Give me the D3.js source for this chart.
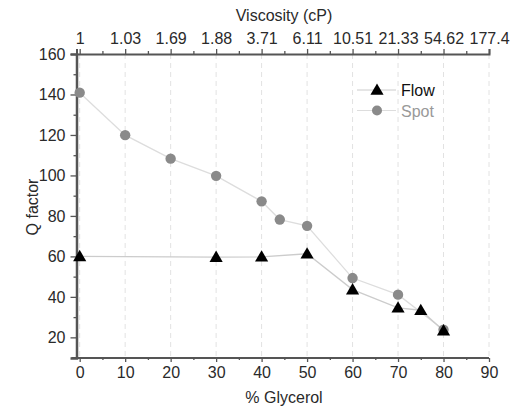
<!DOCTYPE html>
<html><head><meta charset="utf-8">
<script src="https://cdn.jsdelivr.net/npm/d3@7"></script>
<style>body{margin:0;background:#fff}svg{display:block}text{font-family:"Liberation Sans",Arial,sans-serif}</style>
</head><body><svg id="c" width="510" height="410"></svg>
<script>
const xTicks = [0,10,20,30,40,50,60,70,80,90];
const viscosityLabels = ["1","1.03","1.69","1.88","3.71","6.11","10.51","21.33","54.62","177.4"];
const yTicks = [20,40,60,80,100,120,140,160];
const yMinor = [10,30,50,70,90,110,130,150];
const flowX = [0,30,40,50,60,70,75,80];
const flowY = [60,59.6,59.8,61.3,43.6,34.6,33.4,23.3];
const spotX = [0,10,20,30,40,44,50,60,70,80];
const spotY = [140.9,119.9,108.3,99.8,87.2,78.2,75.1,49.3,41.1,23.8];

const svg = d3.select("#c");
const L=76.5, R=490, T=54, B=358;
const x = d3.scaleLinear().domain([-0.7,90]).range([L,489]);
const y = d3.scaleLinear().domain([9.8,160]).range([B,T]);
const axisCol="#555", txtCol="#2a2a2a";
const FS="16px";

// grid
svg.append("g").selectAll("line").data(xTicks).join("line")
  .attr("x1",d=>x(d)).attr("x2",d=>x(d)).attr("y1",T).attr("y2",B)
  .attr("stroke","#e2e2e2").attr("stroke-dasharray","5,4").attr("stroke-width",1);

const minorX = xTicks.slice(0,-1).map(d=>d+5);
// bottom axis
const gb = svg.append("g").attr("transform",`translate(0,${B})`)
  .call(d3.axisBottom(x).tickValues(xTicks).tickSize(4).tickPadding(5));
const gbm = svg.append("g").attr("transform",`translate(0,${B})`)
  .call(d3.axisBottom(x).tickValues(minorX).tickSize(2).tickFormat(""));
// top axis
const gt = svg.append("g").attr("transform",`translate(0,${T})`)
  .call(d3.axisTop(x).tickValues(xTicks).tickSize(5).tickPadding(5).tickFormat((d,i)=>viscosityLabels[i]));
const gtm = svg.append("g").attr("transform",`translate(0,${T})`)
  .call(d3.axisTop(x).tickValues(minorX).tickSize(3).tickFormat(""));
// left axis
const gl = svg.append("g").attr("transform",`translate(${L},0)`)
  .call(d3.axisLeft(y).tickValues(yTicks).tickSize(6).tickPadding(5));
const glm = svg.append("g").attr("transform",`translate(${L},0)`)
  .call(d3.axisLeft(y).tickValues(yMinor).tickSize(3).tickFormat(""));

[gb,gbm,gt,gtm,gl,glm].forEach(g=>{
  g.select(".domain").attr("stroke",axisCol).attr("stroke-width",2);
  g.selectAll(".tick line").attr("stroke",axisCol).attr("stroke-width",1.3);
  g.selectAll("text").attr("fill",txtCol).style("font-size",FS).style("font-family",'"Liberation Sans",Arial,sans-serif');
});
gl.select(".domain").attr("stroke-width",2.5);
gb.select(".domain").attr("d",`M${L-5},0H489`);
gbm.select(".domain").remove();
gtm.select(".domain").remove();
glm.select(".domain").remove();

// labels
svg.append("text").attr("x",284).attr("y",21).attr("text-anchor","middle").attr("fill",txtCol).style("font-size",FS).text("Viscosity (cP)");
svg.append("text").attr("x",284).attr("y",403).attr("text-anchor","middle").attr("fill",txtCol).style("font-size",FS).text("% Glycerol");
svg.append("text").attr("transform",`translate(38,207) rotate(-90)`).attr("text-anchor","middle").attr("fill",txtCol).style("font-size",FS).text("Q factor");

const line = d3.line().x(d=>x(d[0])).y(d=>y(d[1]));
const spot = spotX.map((d,i)=>[d,spotY[i]]);
const flow = flowX.map((d,i)=>[d,flowY[i]]);
svg.append("path").attr("d",line(spot)).attr("fill","none").attr("stroke","#ddd").attr("stroke-width",1.3);
svg.append("path").attr("d",line(flow)).attr("fill","none").attr("stroke","#ccc").attr("stroke-width",1.3);

const tri = d3.symbol().type(d3.symbolTriangle).size(75);
svg.append("g").selectAll("circle").data(spot).join("circle")
  .attr("cx",d=>x(d[0])).attr("cy",d=>y(d[1])).attr("r",5.2).attr("fill","#8a8a8a");
svg.append("g").selectAll("path").data(flow).join("path")
  .attr("d",tri).attr("transform",d=>`translate(${x(d[0])},${y(d[1])+1})`).attr("fill","#000");

// legend
const lg = svg.append("g");
lg.append("line").attr("x1",357).attr("x2",396).attr("y1",90).attr("y2",90).attr("stroke","#ccc");
lg.append("path").attr("d",tri).attr("transform","translate(377,91)").attr("fill","#000");
lg.append("text").attr("x",401).attr("y",96).attr("fill","#111").style("font-size",FS).text("Flow");
lg.append("line").attr("x1",357).attr("x2",396).attr("y1",110.5).attr("y2",110.5).attr("stroke","#ddd");
lg.append("circle").attr("cx",377).attr("cy",110.5).attr("r",5).attr("fill","#8a8a8a");
lg.append("text").attr("x",401).attr("y",116.5).attr("fill","#999").style("font-size",FS).text("Spot");
</script></body></html>
